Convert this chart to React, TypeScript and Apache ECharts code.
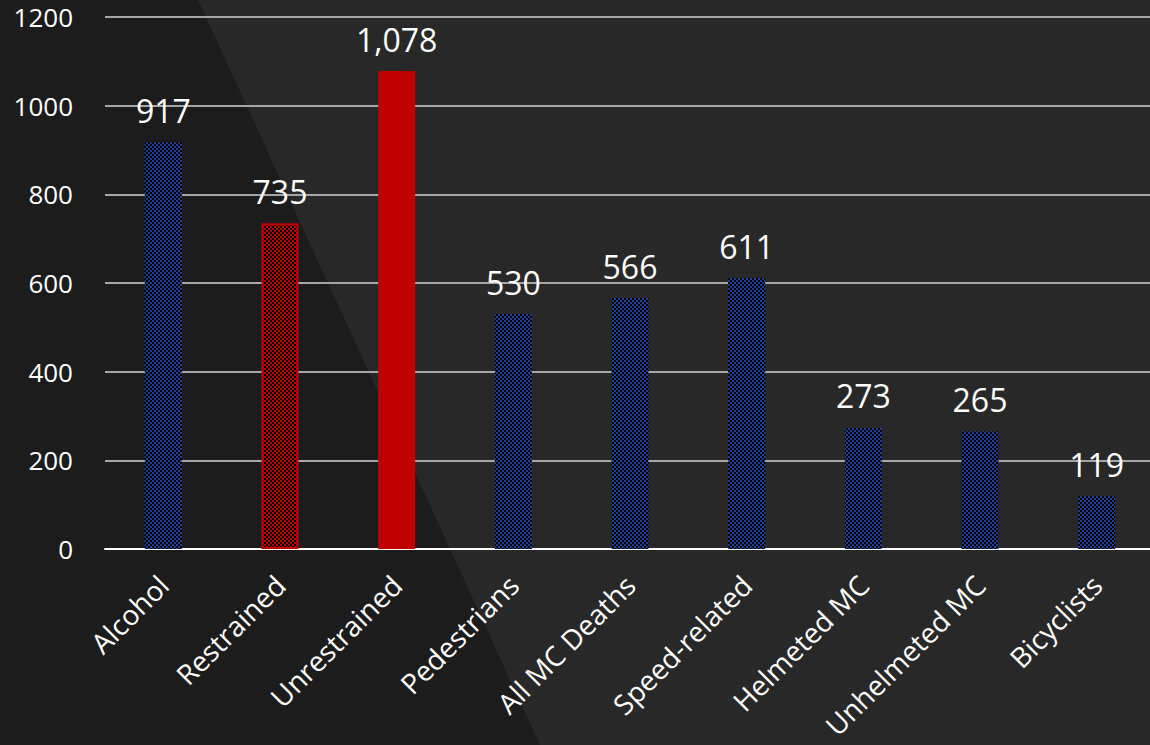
import React, { useEffect, useRef } from "react";
import * as echarts from "echarts";

const categories = ["Alcohol", "Restrained", "Unrestrained", "Pedestrians", "All MC Deaths", "Speed-related", "Helmeted MC", "Unhelmeted MC", "Bicyclists"];
const values = [917, 735, 1078, 530, 566, 611, 273, 265, 119];
const styles = ["blue", "redPattern", "red", "blue", "blue", "blue", "blue", "blue", "blue"];

function makeChecker(c1: string, c2: string) {
  const cv = document.createElement("canvas");
  cv.width = 4;
  cv.height = 4;
  const ctx = cv.getContext("2d")!;
  ctx.fillStyle = c2;
  ctx.fillRect(0, 0, 4, 4);
  ctx.fillStyle = c1;
  ctx.fillRect(0, 0, 2, 2);
  ctx.fillRect(2, 2, 2, 2);
  return cv;
}

export default function App() {
  const ref = useRef<HTMLDivElement>(null);
  useEffect(() => {
    const chart = echarts.init(ref.current!, null, { renderer: "svg" });
    const bluePat = { image: makeChecker("#1f3f9c", "#000000"), repeat: "repeat" };
    const redPat = { image: makeChecker("#c00000", "#000000"), repeat: "repeat" };
    const data = values.map((v, i) => {
      const s = styles[i];
      if (s === "red") return { value: v, itemStyle: { color: "#c00000" } };
      if (s === "redPattern") return { value: v, itemStyle: { color: redPat, borderColor: "#c00000", borderWidth: 2 } };
      return { value: v, itemStyle: { color: bluePat } };
    });
    chart.setOption({
      animation: false,
      backgroundColor: "#282828",
      graphic: [
        {
          type: "polygon",
          z: -10,
          silent: true,
          shape: { points: [[0, 0], [198, 0], [540, 745], [0, 745]] },
          style: { fill: "#1c1c1c" },
        },
      ],
      grid: { left: 105, right: -5, top: 17, bottom: 196, containLabel: false, outerBoundsMode: "none" },
      xAxis: {
        type: "category",
        data: categories,
        axisLine: { lineStyle: { color: "#ffffff", width: 2 } },
        axisTick: { show: false },
        axisLabel: {
          rotate: 45,
          color: "#ffffff",
          fontSize: 28,
          fontFamily: "Open Sans",
          margin: 31,
          interval: 0,
        },
      },
      yAxis: {
        type: "value",
        min: 0,
        max: 1200,
        interval: 200,
        axisLine: { show: false },
        axisTick: { show: false },
        splitLine: { lineStyle: { color: "#a6a6a6", width: 2 } },
        axisLabel: {
          color: "#ffffff",
          fontSize: 26,
          fontFamily: "Open Sans",
          margin: 32,
          formatter: (v: number) => String(v),
        },
      },
      series: [
        {
          type: "bar",
          data,
          barWidth: 37,
          label: {
            show: true,
            position: "top",
            distance: 16,
            color: "#ffffff",
            fontSize: 32,
            fontFamily: "Open Sans",
            formatter: (p: any) => p.value.toLocaleString("en-US"),
          },
        },
      ],
    });
    return () => chart.dispose();
  }, []);
  return <div ref={ref} style={{ width: 1150, height: 745, position: "absolute", left: 0, top: 0 }} />;
}
